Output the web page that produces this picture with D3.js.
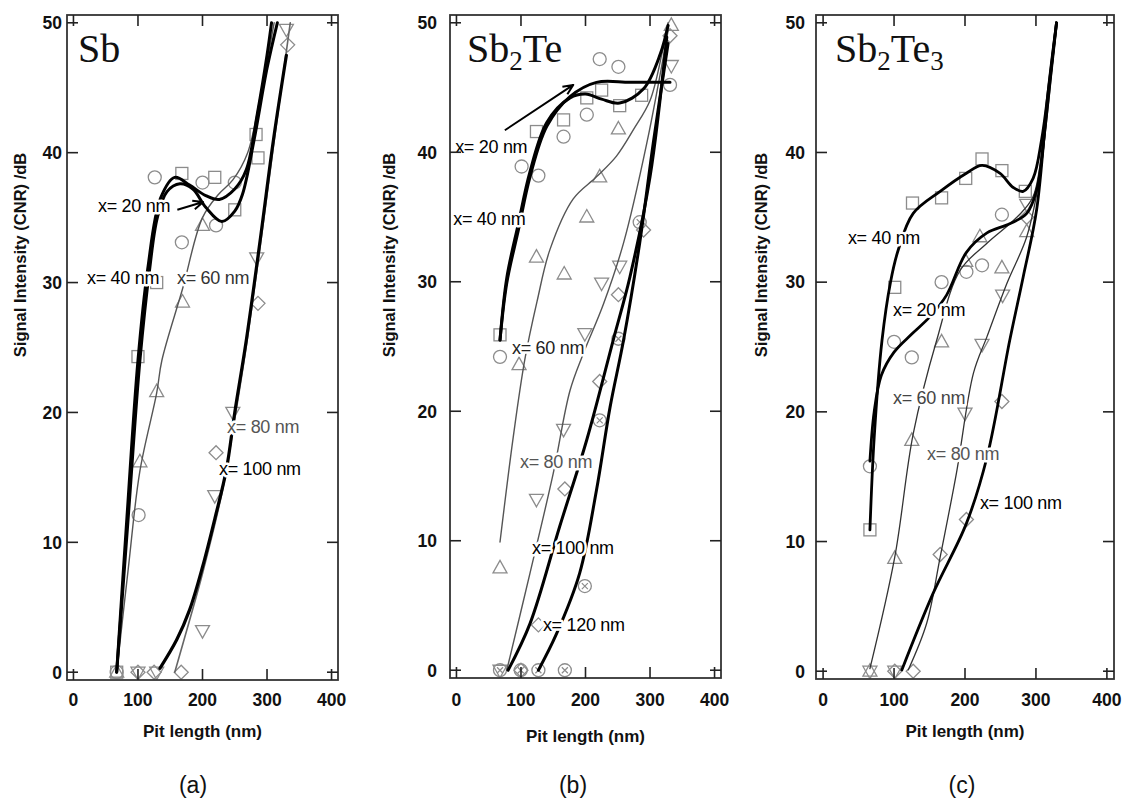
<!DOCTYPE html>
<html><head><meta charset="utf-8">
<script src="https://cdn.jsdelivr.net/npm/d3@7"></script>
<style>body{margin:0;background:#fff} svg{display:block}</style>
</head><body>
<svg id="c" width="1122" height="803"></svg>
<script>
// ---------- shared axis text ----------
const xTicks = [0, 100, 200, 300, 400];
const yTicks = [0, 10, 20, 30, 40, 50];
const xLabel = "Pit length (nm)";
const yLabel = "Signal Intensity (CNR) /dB";
const panelTags = ["(a)", "(b)", "(c)"];
const seriesNames = ["x= 20 nm", "x= 40 nm", "x= 60 nm", "x= 80 nm", "x= 100 nm", "x= 120 nm"];

// ---------- (a) Sb : measured points [pit length, CNR] ----------
const sbPts20  = [[67,0],[101,12.1],[126,38.1],[168,33.1],[200,37.7],[221,34.4],[250,37.7]];
const sbPts40  = [[67,0],[100,24.3],[129,30],[168,38.4],[219,38.1],[250,35.6],[283,41.4],[286,39.6]];
const sbPts60  = [[67,0],[103,16.2],[129,21.6],[169,28.5],[200,34.4]];
const sbPts80  = [[100,0],[129,0],[200,3.2],[219,13.6],[247,20],[284,31.9],[330,49.5]];
const sbPts100 = [[100,0],[125,0],[167,0],[221,16.9],[286,28.4],[332,48.3]];
// fitted curves
const sbFit20  = [[67,0],[85,12],[103,24],[118,31],[130,35],[145,37],[165,37.6],[185,37.2],[205,35.8],[230,34.7],[250,35.5],[262,36.8],[280,41],[300,46.5],[316,50]];
const sbFit40  = [[67,0],[83,12],[100,24],[115,31],[135,36.5],[157,38.1],[180,37.5],[205,36.7],[226,36.4],[250,37.2],[268,38.7],[285,43],[300,47.5],[307,50]];
const sbFit60  = [[67,0],[85,8],[103,15.5],[129,21.5],[137,24],[169,29.5],[200,35],[225,36.8],[247,37.9],[270,40],[292,45],[311,50]];
const sbFit80  = [[157,0],[180,4],[200,7.6],[231,14],[250,19.5],[270,25.8],[290,33],[310,40.5],[336,50]];
const sbFit100 = [[134,0.3],[160,2.5],[180,4.8],[200,8.1],[220,12],[237,15.6],[250,20],[268,25.6],[290,33.5],[310,41],[330,47.5]];

// ---------- (b) Sb2Te ----------
const sb2tePts20  = [[67.5,24.2],[101,38.9],[127,38.2],[166,41.2],[202,42.9],[222,47.2],[251,46.6],[331,45.2]];
const sb2tePts40  = [[67.5,25.9],[124,41.6],[166,42.5],[202,44.2],[225,44.8],[253,43.6],[287,44.4]];
const sb2tePts60  = [[67.5,7.9],[97,23.6],[124,31.9],[167,30.6],[202,35],[222,38.1],[251,41.8],[333,49.8]];
const sb2tePts80  = [[67.5,0],[124,13.2],[166,18.6],[199,26],[225,29.9],[253,31.2],[333,46.7]];
const sb2tePts100 = [[100,0],[127,3.5],[168,14],[222,22.3],[251,29],[290,34],[331,49]];
const sb2tePts120 = [[67.5,0],[99.6,0],[127,0],[168,0],[199,6.5],[222,19.3],[251,25.6],[284,34.6]];
const sb2teFit20  = [[67.5,25.5],[78,29.9],[96,34],[114,38.1],[140,42],[176,44.3],[217,45.4],[269,45.4],[331,45.4]];
const sb2teFit40  = [[67.5,25.5],[78,30.3],[96,34.5],[114,38.5],[140,42.3],[176,44.2],[200,44.5],[225,44.1],[253,43.8],[290,44.9],[316,47.6],[328,49.8]];
const sb2teFit60  = [[67.5,9.9],[88,18],[106,24],[125,28.5],[145,32.5],[181,36.4],[217,38.1],[248,39.7],[275,41.8],[300,44],[318,47.5],[328,50]];
const sb2teFit80  = [[78,0],[114,7.5],[150,15.2],[176,21.6],[197,24.5],[228,28.3],[259,33],[295,40.7],[328,49.4]];
const sb2teFit100 = [[80,0],[114,3.6],[160,11.1],[202,17.8],[243,25.5],[269,30.4],[300,38.1],[326,48.9]];
const sb2teFit120 = [[127,0],[155,2.8],[191,7.5],[217,13.9],[238,20.3],[259,25.5],[284,33],[305,40.7],[328,48.4]];

// ---------- (c) Sb2Te3 ----------
const sb2te3Pts20  = [[66,15.8],[100,25.4],[125,24.2],[167,30],[202,30.8],[224,31.3],[252,35.2]];
const sb2te3Pts40  = [[66,10.9],[101,29.6],[126,36.1],[167,36.5],[201,38],[224,39.5],[252,38.6],[285,37]];
const sb2te3Pts60  = [[66,0],[101,8.7],[125,17.8],[167,25.4],[201,31.6],[221,33.5],[252,31.1],[287,33.9]];
const sb2te3Pts80  = [[66,0],[101,0],[200,19.9],[224,25.2],[253,29],[287,36]];
const sb2te3Pts100 = [[101,0],[127,0],[165,9],[202,11.7],[252,20.8],[287,35]];
const sb2te3Fit20  = [[66,16.2],[72,20],[82,22.8],[100,24.6],[125,26],[150,27.3],[174,29],[202,32.3],[231,33.8],[263,34.5],[287,35.3],[301,37.1],[312,41.5],[321,46],[329,50]];
const sb2te3Fit40  = [[66,10.9],[72,18],[83,25.5],[95,30],[106,32.5],[127,35.3],[165,37],[202,38.4],[224,39],[249,38.4],[268,37.3],[282,37],[296,38],[308,41],[318,45],[329,50]];
const sb2te3Fit60  = [[66,0.2],[101,8.8],[127,18.3],[160,25.5],[193,30.9],[231,33],[273,35],[296,36.6],[312,42],[321,46.5],[329,50]];
const sb2te3Fit80  = [[120,0.1],[146,3.7],[165,8.8],[188,15.3],[212,23],[231,25.8],[259,29.9],[287,33.5],[305,38],[318,44],[329,50]];
const sb2te3Fit100 = [[111,0.1],[155,6],[202,11.4],[231,16.5],[263,25.5],[282,30.4],[301,35.6],[317,44.6],[329,50]];

// label anchor positions in data units [pit length, CNR]
const sbLabelAt     = [[38,35.9],[21,30.4],[160.5,30.4],[238,18.9],[225.5,15.7]];
const sb2teLabelAt  = [[-2,40.4],[-5,34.9],[86,24.9],[98.5,16.1],[117,9.5],[134,3.5]];
const sb2te3LabelAt = [[98.5,27.9],[35,33.4],[98.5,21.1],[146.5,16.8],[221,13]];
const sbArrow    = [[161,35.6],[201,36.2]];
const sb2teArrow = [[75,41.7],[181,45.2]];

// ---------- drawing ----------
const svg = d3.select("#c");
const FONT = "'Liberation Sans', Arial, Helvetica, sans-serif";
const SERIF = "'Liberation Serif', 'Times New Roman', serif";
const MK = "#8c8c8c";

function series(pts, fit, sym, lc, lw, label, labelAt, labelColor) {
  return {pts, fit, sym, lc, lw, label, labelAt, labelColor};
}

const panels = [
  { L:67, R:338, T:15, B:680, yTickX:62, yLabX:20, xTitleY:737, tagX:193,
    title:[["Sb",""]], titleX:78,
    arrow: sbArrow,
    series: [
      series(sbPts20, sbFit20, "circle", "#000", 3, seriesNames[0], sbLabelAt[0], "#000"),
      series(sbPts40, sbFit40, "square", "#000", 3, seriesNames[1], sbLabelAt[1], "#000"),
      series(sbPts60, sbFit60, "tri", "#555", 1.4, seriesNames[2], sbLabelAt[2], "#333"),
      series(sbPts80, sbFit80, "dtri", "#666", 1.6, seriesNames[3], sbLabelAt[3], "#555"),
      series(sbPts100, sbFit100, "diamond", "#000", 3.2, seriesNames[4], sbLabelAt[4], "#000"),
    ]},
  { L:450, R:721, T:15, B:678, yTickX:437, yLabX:389, xTitleY:742, tagX:573,
    title:[["Sb",""],["2","sub"],["Te",""]], titleX:467,
    arrow: sb2teArrow,
    series: [
      series(sb2tePts20, sb2teFit20, "circle", "#000", 3, seriesNames[0], sb2teLabelAt[0], "#000"),
      series(sb2tePts40, sb2teFit40, "square", "#000", 3, seriesNames[1], sb2teLabelAt[1], "#000"),
      series(sb2tePts60, sb2teFit60, "tri", "#555", 1.4, seriesNames[2], sb2teLabelAt[2], "#222"),
      series(sb2tePts80, sb2teFit80, "dtri", "#555", 1.4, seriesNames[3], sb2teLabelAt[3], "#555"),
      series(sb2tePts100, sb2teFit100, "diamond", "#000", 3, seriesNames[4], sb2teLabelAt[4], "#000"),
      series(sb2tePts120, sb2teFit120, "ocross", "#000", 3, seriesNames[5], sb2teLabelAt[5], "#000"),
    ]},
  { L:816, R:1114, T:15, B:679, yTickX:805, yLabX:761, xTitleY:737, tagX:962,
    title:[["Sb",""],["2","sub"],["Te",""],["3","sub"]], titleX:835,
    arrow: null,
    series: [
      series(sb2te3Pts20, sb2te3Fit20, "circle", "#000", 2.8, seriesNames[0], sb2te3LabelAt[0], "#000"),
      series(sb2te3Pts40, sb2te3Fit40, "square", "#000", 2.8, seriesNames[1], sb2te3LabelAt[1], "#000"),
      series(sb2te3Pts60, sb2te3Fit60, "tri", "#333", 1.3, seriesNames[2], sb2te3LabelAt[2], "#444"),
      series(sb2te3Pts80, sb2te3Fit80, "dtri", "#333", 1.3, seriesNames[3], sb2te3LabelAt[3], "#555"),
      series(sb2te3Pts100, sb2te3Fit100, "diamond", "#000", 2.8, seriesNames[4], sb2te3LabelAt[4], "#000"),
    ]},
];

function drawSym(g, type, cx, cy) {
  const s = 6.5;
  const st = {fill:"none", stroke:MK, "stroke-width":1.3};
  let el;
  if (type === "circle" || type === "ocross") {
    el = g.append("circle").attr("cx", cx).attr("cy", cy).attr("r", s);
    if (type === "ocross") {
      g.append("path").attr("d", `M${cx-3},${cy-3}L${cx+3},${cy+3}M${cx-3},${cy+3}L${cx+3},${cy-3}`)
        .attr("stroke", MK).attr("stroke-width", 1.2).attr("fill","none");
    }
  } else if (type === "square") {
    el = g.append("rect").attr("x", cx-6).attr("y", cy-6).attr("width", 12).attr("height", 12);
  } else if (type === "tri") {
    el = g.append("path").attr("d", `M${cx},${cy-7.5}L${cx+7},${cy+5}L${cx-7},${cy+5}Z`);
  } else if (type === "dtri") {
    el = g.append("path").attr("d", `M${cx},${cy+7.5}L${cx+7},${cy-5}L${cx-7},${cy-5}Z`);
  } else {
    el = g.append("path").attr("d", `M${cx},${cy-7}L${cx+7},${cy}L${cx},${cy+7}L${cx-7},${cy}Z`);
  }
  Object.entries(st).forEach(([k,v]) => el.attr(k, v));
}

panels.forEach((p, pi) => {
  const x = d3.scaleLinear().domain([-10, 410]).range([p.L, p.R]);
  const y = d3.scaleLinear().domain([-0.6, 50.6]).range([p.B, p.T]);
  const g = svg.append("g");

  // clip for plot content
  const cid = "clip" + pi;
  svg.append("clipPath").attr("id", cid).append("rect")
    .attr("x", p.L).attr("y", p.T).attr("width", p.R - p.L).attr("height", p.B - p.T);
  const plot = g.append("g").attr("clip-path", `url(#${cid})`);

  // markers
  p.series.forEach(s => {
    const mg = plot.append("g");
    s.pts.forEach(d => drawSym(mg, s.sym, x(d[0]), y(d[1])));
  });

  // fitted curves
  const line = d3.line().x(d => x(d[0])).y(d => y(d[1])).curve(d3.curveCatmullRom.alpha(0.5));
  // thin lines first, thick after
  [...p.series].sort((a,b) => a.lw - b.lw).forEach(s => {
    plot.append("path").datum(s.fit).attr("d", line)
      .attr("fill", "none").attr("stroke", s.lc).attr("stroke-width", s.lw)
      .attr("stroke-linecap", "round").attr("stroke-linejoin", "round");
  });

  // curve labels with white halo
  p.series.forEach(s => {
    plot.append("text").attr("x", x(s.labelAt[0])).attr("y", y(s.labelAt[1]))
      .attr("dy", "0.35em").attr("font-family", FONT).attr("font-size", 18)
      .attr("fill", s.labelColor).attr("stroke", "#fff").attr("stroke-width", 5)
      .attr("paint-order", "stroke").attr("stroke-linejoin", "round")
      .style("letter-spacing", "-0.3px")
      .text(s.label);
  });

  // arrow
  if (p.arrow) {
    const [a, b] = p.arrow;
    const x1 = x(a[0]), y1 = y(a[1]), x2 = x(b[0]), y2 = y(b[1]);
    const ang = Math.atan2(y2 - y1, x2 - x1);
    const hl = 11, ha = 0.42;
    plot.append("path")
      .attr("d", `M${x1},${y1}L${x2},${y2}` +
        `M${x2 - hl*Math.cos(ang-ha)},${y2 - hl*Math.sin(ang-ha)}L${x2},${y2}` +
        `L${x2 - hl*Math.cos(ang+ha)},${y2 - hl*Math.sin(ang+ha)}`)
      .attr("fill", "none").attr("stroke", "#000").attr("stroke-width", 2)
      .attr("stroke-linejoin", "round");
  }

  // frame
  g.append("rect").attr("x", p.L).attr("y", p.T).attr("width", p.R - p.L).attr("height", p.B - p.T)
    .attr("fill", "none").attr("stroke", "#333").attr("stroke-width", 1.8);

  // ticks (inside, all four sides)
  const tl = 11;
  xTicks.forEach(t => {
    g.append("line").attr("x1", x(t)).attr("x2", x(t)).attr("y1", p.B).attr("y2", p.B - tl)
      .attr("stroke", "#222").attr("stroke-width", 1.6);
    g.append("line").attr("x1", x(t)).attr("x2", x(t)).attr("y1", p.T).attr("y2", p.T + tl)
      .attr("stroke", "#222").attr("stroke-width", 1.6);
    g.append("text").attr("x", x(t)).attr("y", 706).attr("text-anchor", "middle")
      .attr("font-family", FONT).attr("font-weight", "bold").attr("font-size", 17.5)
      .attr("fill", "#111").text(t);
  });
  yTicks.forEach(t => {
    g.append("line").attr("x1", p.L).attr("x2", p.L + tl).attr("y1", y(t)).attr("y2", y(t))
      .attr("stroke", "#222").attr("stroke-width", 1.6);
    g.append("line").attr("x1", p.R).attr("x2", p.R - tl).attr("y1", y(t)).attr("y2", y(t))
      .attr("stroke", "#222").attr("stroke-width", 1.6);
    g.append("text").attr("x", p.yTickX).attr("y", y(t)).attr("dy", "0.36em").attr("text-anchor", "end")
      .attr("font-family", FONT).attr("font-weight", "bold").attr("font-size", 17.5)
      .attr("fill", "#111").text(t);
  });

  // axis titles
  g.append("text").attr("x", x(200)).attr("y", p.xTitleY).attr("text-anchor", "middle")
    .attr("font-family", FONT).attr("font-weight", "bold").attr("font-size", 17)
    .attr("fill", "#111").text(xLabel);
  g.append("text").attr("transform", `translate(${p.yLabX},255) rotate(-90)`)
    .attr("text-anchor", "middle").attr("dy", "0.35em")
    .attr("font-family", FONT).attr("font-weight", "bold").attr("font-size", 16.5)
    .attr("fill", "#111").text(yLabel);

  // panel tag
  g.append("text").attr("x", p.tagX).attr("y", 793).attr("text-anchor", "middle")
    .attr("font-family", FONT).attr("font-size", 23).attr("fill", "#111").text(panelTags[pi]);

  // material title
  const tt = g.append("text").attr("x", p.titleX).attr("y", 62)
    .attr("font-family", SERIF).attr("font-size", 40).attr("fill", "#111");
  let lastSub = false;
  p.title.forEach(([txt, kind]) => {
    const sp = tt.append("tspan").text(txt);
    if (kind === "sub") { sp.attr("font-size", 27).attr("dy", lastSub ? 0 : 8); lastSub = true; }
    else { if (lastSub) sp.attr("dy", -8); lastSub = false; }
  });
});
</script>
</body></html>
